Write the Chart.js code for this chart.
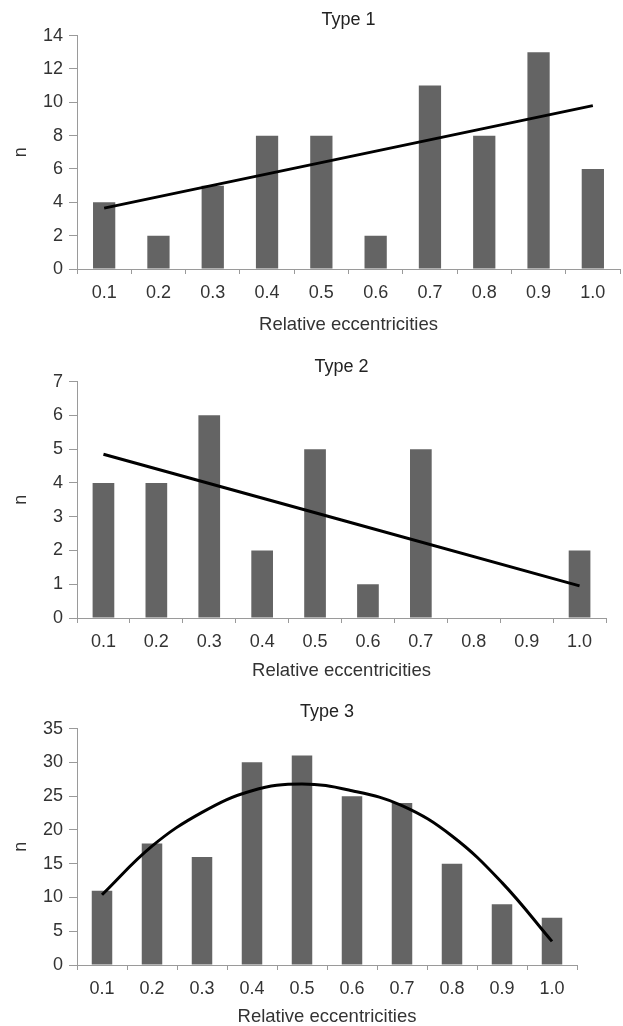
<!DOCTYPE html>
<html>
<head>
<meta charset="utf-8">
<title>Relative eccentricities</title>
<script src="https://cdn.jsdelivr.net/npm/chart.js@4/dist/chart.umd.min.js"></script>
<style>
  html, body { margin: 0; padding: 0; background: #fff; overflow: hidden; }
  .box { position: absolute; left: 0; width: 623px; }
</style>
</head>
<body>
<div class="box" id="box1" style="top:0px;height:345px"><canvas id="type1"></canvas></div>
<div class="box" id="box2" style="top:345px;height:335px"><canvas id="type2"></canvas></div>
<div class="box" id="box3" style="top:680px;height:346px"><canvas id="type3"></canvas></div>
<script>
// categories on the x axis
const categories = ['0.1', '0.2', '0.3', '0.4', '0.5', '0.6', '0.7', '0.8', '0.9', '1.0'];

// Type 1
const type1Counts = [4, 2, 5, 8, 8, 2, 11, 8, 13, 6];
const type1Trend = [3.65, null, null, null, null, null, null, null, null, 9.8];

// Type 2
const type2Counts = [4, 4, 6, 2, 5, 1, 5, 0, 0, 2];
const type2Trend = [4.85, null, null, null, null, null, null, null, null, 0.95];

// Type 3
const type3Counts = [11, 18, 16, 30, 31, 25, 24, 15, 9, 7];
const type3Trend = [10.4, 17.6, 22.6, 25.8, 26.8, 25.8, 23.6, 19.1, 12.2, 3.5];

// y axis ranges
const type1YTicks = { max: 14, step: 2 };
const type2YTicks = { max: 7, step: 1 };
const type3YTicks = { max: 35, step: 5 };

const axisGray = '#9a9a9a';
const textDark = '#333333';
const fontFamily = '"Liberation Sans", Arial, Helvetica, sans-serif';

function makeChart(id, title, counts, trend, yTicks, layout) {
    const ctx = document.getElementById(id).getContext('2d');
    const config = {
        data: {
            labels: categories,
            datasets: [{
                type: 'line',
                data: trend,
                borderColor: '#000000',
                borderWidth: 3,
                pointRadius: 0,
                tension: 0.4,
                spanGaps: true,
                order: 0
            }, {
                type: 'bar',
                data: counts,
                backgroundColor: '#646464',
                borderWidth: 0,
                barPercentage: 0.41,
                categoryPercentage: 1,
                order: 1
            }]
        },
        options: {
            responsive: true,
            maintainAspectRatio: false,
            animation: false,
            layout: {
                padding: { left: 0, top: 0, right: layout.padRight, bottom: layout.padBottom }
            },
            scales: {
                x: {
                    type: 'category',
                    offset: true,
                    grid: { offset: true, drawOnChartArea: false, color: axisGray, tickLength: 5 },
                    border: { color: axisGray, width: 1 },
                    ticks: { color: textDark, padding: 8, font: { family: fontFamily, size: 18 } },
                    title: {
                        display: true,
                        text: 'Relative eccentricities',
                        color: textDark,
                        padding: { top: 0, bottom: 0 },
                        font: { family: fontFamily, size: 18.5, lineHeight: 1 }
                    },
                    afterFit: function (scale) { scale.height = layout.xAxisHeight; }
                },
                y: {
                    min: 0,
                    max: yTicks.max,
                    grid: { drawOnChartArea: false, color: axisGray, tickLength: 8 },
                    border: { color: axisGray, width: 1 },
                    ticks: { stepSize: yTicks.step, color: textDark, padding: 6, font: { family: fontFamily, size: 18 } },
                    title: {
                        display: true,
                        text: 'n',
                        color: textDark,
                        padding: { top: 12, bottom: 0 },
                        font: { family: fontFamily, size: 18, lineHeight: 1 }
                    },
                    afterFit: function (scale) { scale.width = 77; }
                }
            },
            plugins: {
                legend: { display: false },
                tooltip: { enabled: false },
                title: {
                    display: true,
                    text: title,
                    fullSize: false,
                    color: '#222222',
                    padding: layout.titlePad,
                    font: { family: fontFamily, size: 18, weight: 'normal' }
                }
            }
        }
    };
    return new Chart(ctx, config);
}

makeChart('type1', 'Type 1', type1Counts, type1Trend, type1YTicks,
    { padRight: 3, padBottom: 11, xAxisHeight: 65, titlePad: { top: 9, bottom: 5 } });
makeChart('type2', 'Type 2', type2Counts, type2Trend, type2YTicks,
    { padRight: 17, padBottom: 0, xAxisHeight: 62, titlePad: { top: 11, bottom: 4 } });
makeChart('type3', 'Type 3', type3Counts, type3Trend, type3YTicks,
    { padRight: 46, padBottom: 0, xAxisHeight: 61, titlePad: { top: 21, bottom: 6 } });
</script>
</body>
</html>
